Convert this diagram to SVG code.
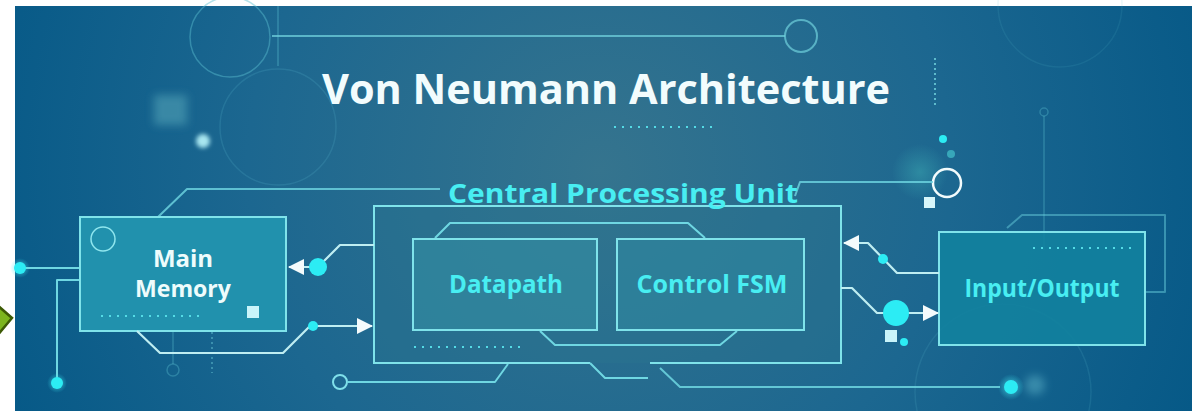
<svg xmlns="http://www.w3.org/2000/svg" width="1192" height="411" viewBox="0 0 1192 411">
  <defs>
    <radialGradient id="bg" cx="600" cy="170" r="640" gradientUnits="userSpaceOnUse">
      <stop offset="0" stop-color="#35748e"/>
      <stop offset="0.55" stop-color="#1c6790"/>
      <stop offset="1" stop-color="#065987"/>
    </radialGradient>
    <radialGradient id="glow" cx="0.5" cy="0.5" r="0.5">
      <stop offset="0" stop-color="#6ff6ff" stop-opacity="0.7"/>
      <stop offset="1" stop-color="#2ee8f0" stop-opacity="0"/>
    </radialGradient>
    <radialGradient id="softglow" cx="0.5" cy="0.5" r="0.5">
      <stop offset="0" stop-color="#3aa6b0" stop-opacity="0.55"/>
      <stop offset="1" stop-color="#3aa6b0" stop-opacity="0"/>
    </radialGradient>
    <filter id="blur4" x="-50%" y="-50%" width="200%" height="200%">
      <feGaussianBlur stdDeviation="4"/>
    </filter>
    <filter id="blur2" x="-50%" y="-50%" width="200%" height="200%">
      <feGaussianBlur stdDeviation="2"/>
    </filter>
    <marker id="arrow" viewBox="0 0 16 16" refX="15" refY="8" markerWidth="16" markerHeight="16" markerUnits="userSpaceOnUse" orient="auto">
      <path d="M0,0 L16,8 L0,16 z" fill="#f4fbfc"/>
    </marker>
    <style>
      .trace { fill: none; stroke: #6fd7e2; stroke-width: 2; stroke-linejoin: round; }
      .trace-faint { fill: none; stroke: #5cbfd0; stroke-width: 1.5; }
      .conn { fill: none; stroke: #bfeef2; stroke-width: 2.2; stroke-linejoin: round; }
      .dot { fill: #2cecf4; }
      .dots { fill: none; stroke: #54dbe6; stroke-width: 2.2; stroke-dasharray: 2 6; }
      .box { stroke: #7fe3ea; stroke-width: 2; }
      .lbl { font-family: "Open Sans", "Liberation Sans", sans-serif; font-weight: 700; text-anchor: middle; }
      .cyan { fill: #48eef2; }
      .white { fill: #eefcfc; }
    </style>
  </defs>

  <!-- page -->
  <rect x="0" y="0" width="1192" height="411" fill="#ffffff"/>
  <rect x="15" y="6" width="1177" height="405" fill="url(#bg)"/>

  <!-- background decorations -->
  <g id="decorations">
    <circle cx="230" cy="37" r="40" class="trace-faint" style="opacity:0.45"/>
    <line x1="278" y1="6" x2="278" y2="66" class="trace-faint" style="opacity:0.4"/>
    <line x1="272" y1="36" x2="785" y2="36" stroke="#6fd0dc" stroke-width="2" opacity="0.75"/>
    <circle cx="801" cy="36" r="16" fill="none" stroke="#6fd0dc" stroke-width="2" opacity="0.7"/>
    <circle cx="278" cy="127" r="58" class="trace-faint" style="opacity:0.18"/>
    <rect x="154" y="95" width="33" height="30" fill="#4a99b0" opacity="0.7" filter="url(#blur4)"/>
    <circle cx="203" cy="141" r="7" fill="#a8e6f0" filter="url(#blur2)"/>
    <circle cx="1060" cy="5" r="62" class="trace-faint" style="opacity:0.12"/>
    <line x1="935" y1="58" x2="935" y2="108" stroke="#6fd0dc" stroke-width="2" stroke-dasharray="2 3" opacity="0.8"/>
    <circle cx="1044" cy="112" r="4" class="trace-faint" style="opacity:0.35"/>
    <line x1="1044" y1="116" x2="1044" y2="250" class="trace-faint" style="opacity:0.35"/>
    <circle cx="920" cy="172" r="28" fill="url(#softglow)"/>
    <circle cx="943" cy="139" r="4" class="dot"/>
    <circle cx="951" cy="154" r="4" fill="#3fb8c4" opacity="0.8"/>
    <circle cx="947" cy="183" r="14" fill="none" stroke="#f2fbfc" stroke-width="2.5"/>
    <rect x="924" y="197" width="11" height="11" fill="#d8f6fa"/>
    <circle cx="1003" cy="392" r="88" class="trace-faint" style="opacity:0.15"/>
    <!-- traces -->
    <path d="M158,217 L187,189 L440,189" class="trace" opacity="0.8"/>
    <path d="M795,196 L800,182 L933,182" class="trace" opacity="0.8"/>
    <path d="M80,268 L20,268" class="trace"/>
    <circle cx="20" cy="268" r="10" fill="url(#glow)"/>
    <circle cx="20" cy="268" r="6" class="dot"/>
    <path d="M80,280 L57,280 L57,383" class="trace"/>
    <circle cx="57" cy="383" r="10" fill="url(#glow)"/>
    <circle cx="57" cy="383" r="6" class="dot"/>
    <line x1="173" y1="330" x2="173" y2="364" class="trace-faint" style="opacity:0.35"/>
    <circle cx="173" cy="370" r="6" class="trace-faint" style="opacity:0.35"/>
    <line x1="212" y1="322" x2="212" y2="373" stroke="#6fd0dc" stroke-width="1.5" stroke-dasharray="2 3" opacity="0.55"/>
    <circle cx="340" cy="382" r="7" fill="none" stroke="#7fe0ea" stroke-width="2"/>
    <path d="M347,382 L495,382 L508,364" class="trace"/>
    <path d="M660,368 L680,387 L1000,387" class="trace" opacity="0.85"/>
    <circle cx="1035" cy="385" r="10" fill="#7fd9e4" opacity="0.35" filter="url(#blur4)"/>
    <circle cx="1011" cy="387" r="13" fill="url(#glow)"/>
    <circle cx="1011" cy="387" r="7" class="dot"/>
    <path d="M1007,228 L1022,215 L1165,215 L1165,292 L1145,292" class="trace" opacity="0.45"/>
    <polygon points="-4,304 12,318 -4,337" fill="#7cb51e" stroke="#3d5a05" stroke-width="2.5" stroke-linejoin="miter"/>
  </g>

  <!-- title -->
  <g id="title">
    <text x="322" y="104" textLength="568" lengthAdjust="spacingAndGlyphs" font-family="'Open Sans', 'Liberation Sans', sans-serif" font-weight="700" font-size="42" fill="#f2fcfd">Von Neumann Architecture</text>
    <line x1="614" y1="127" x2="714" y2="127" class="dots"/>
  </g>

  <!-- CPU -->
  <g id="node-cpu">
    <path d="M590,363 L374,363 L374,206 L841,206 L841,363 L650,363" fill="#2c7590" fill-opacity="0.35" class="box"/>
    <path d="M590,363 L605,378 L648,378" class="trace"/>
    <path d="M435,238 L450,223 L688,223 L705,238" class="trace"/>
    <path d="M540,331 L555,345 L720,345 L737,331" class="trace"/>
    <line x1="414" y1="347" x2="520" y2="347" class="dots"/>
    <text x="623" y="203" textLength="350" lengthAdjust="spacingAndGlyphs" class="lbl cyan" font-size="27">Central Processing Unit</text>
  </g>

  <g id="node-datapath">
    <rect x="413" y="239" width="184" height="91" fill="#3591a6" fill-opacity="0.55" class="box"/>
    <text x="506" y="293" textLength="114" lengthAdjust="spacingAndGlyphs" class="lbl cyan" font-size="25">Datapath</text>
  </g>

  <g id="node-control-fsm">
    <rect x="617" y="239" width="187" height="91" fill="#2f8aa2" fill-opacity="0.55" class="box"/>
    <text x="712" y="293" textLength="151" lengthAdjust="spacingAndGlyphs" class="lbl cyan" font-size="25">Control FSM</text>
  </g>

  <!-- Main Memory -->
  <g id="node-main-memory">
    <rect x="80" y="217" width="206" height="114" fill="#2191ad" class="box"/>
    <circle cx="103" cy="239" r="12" fill="none" stroke="#8fe6ee" stroke-width="1.5"/>
    <rect x="247" y="306" width="12" height="12" fill="#c9f4fa"/>
    <line x1="101" y1="316" x2="200" y2="316" class="dots"/>
    <text x="183" y="267" class="lbl white" font-size="24">Main</text>
    <text x="183" y="297" textLength="96" lengthAdjust="spacingAndGlyphs" class="lbl white" font-size="24">Memory</text>
  </g>

  <!-- Input/Output -->
  <g id="node-io">
    <rect x="939" y="232" width="206" height="113" fill="#12829f" fill-opacity="0.9" class="box"/>
    <line x1="1033" y1="248" x2="1132" y2="248" class="dots"/>
    <text x="1042" y="297" textLength="155" lengthAdjust="spacingAndGlyphs" class="lbl cyan" font-size="25">Input/Output</text>
  </g>

  <!-- connectors -->
  <g id="connectors">
    <path d="M374,245 L340,245 L318,267 L289,267" class="conn" marker-end="url(#arrow)"/>
    <circle cx="318" cy="267" r="9" class="dot"/>
    <path d="M137,331 L160,353 L283,353 L310,326 L372,326" class="conn" marker-end="url(#arrow)"/>
    <circle cx="313" cy="326" r="5" class="dot"/>
    <path d="M939,273 L897,273 L868,243 L844,243" class="conn" marker-end="url(#arrow)"/>
    <circle cx="883" cy="259" r="5" class="dot"/>
    <path d="M841,288 L852,288 L877,313 L938,313" class="conn" marker-end="url(#arrow)"/>
    <circle cx="896" cy="313" r="13" class="dot"/>
    <rect x="885" y="330" width="12" height="12" fill="#c9f4fa"/>
    <circle cx="904" cy="342" r="4" class="dot"/>
  </g>
</svg>
